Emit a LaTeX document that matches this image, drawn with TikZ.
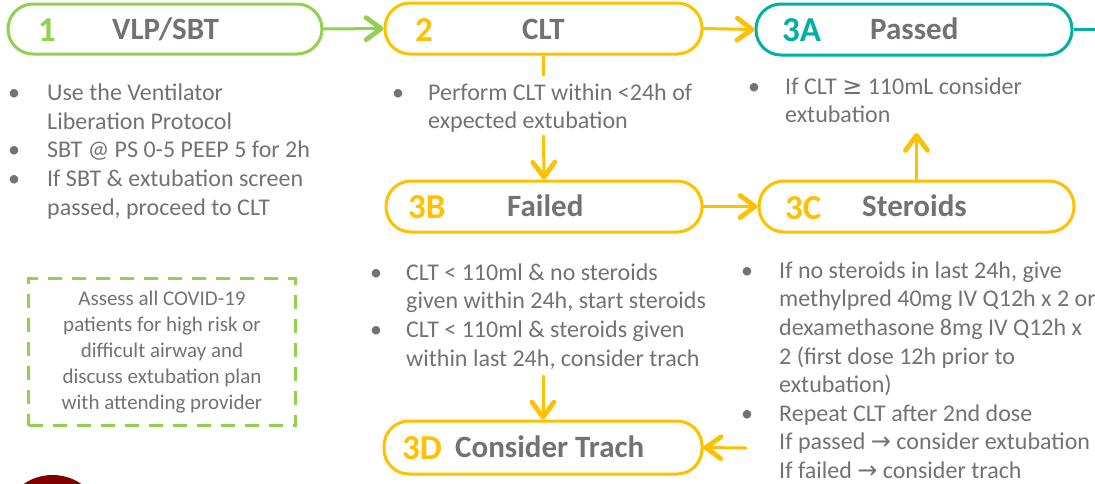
\documentclass[tikz,border=0pt]{standalone}
\usepackage{fontspec}
\setmainfont{Carlito}
\newfontfamily\symf{DejaVu Sans}
\usetikzlibrary{arrows.meta}
\definecolor{cgreen}{RGB}{146,208,80}
\definecolor{corange}{RGB}{255,192,0}
\definecolor{cteal}{RGB}{0,176,166}
\definecolor{cgray}{RGB}{118,113,113}
\definecolor{cmaroon}{RGB}{128,0,0}
\newcommand{\mylines}[1]{\begin{tabular}[t]{@{}l@{}}#1\end{tabular}}
\begin{document}
\begin{tikzpicture}[x=1pt,y=-1pt,
  stage/.style={draw, line width=3pt, rounded corners=25pt, inner sep=0pt, minimum height=51pt, minimum width=316pt},
  num/.style={font=\fontsize{35}{35}\selectfont\bfseries, anchor=base west, inner sep=0pt},
  lab/.style={font=\fontsize{31}{31}\selectfont\bfseries, text=cgray, anchor=base west, inner sep=0pt},
  body/.style={font=\fontsize{24}{28.7}\selectfont, text=cgray, anchor=base west, inner sep=0pt},
  bul/.style={font=\fontsize{24}{28.7}\selectfont, text=cgray, anchor=base west, inner sep=0pt},
  flow/.style={line width=3pt, line cap=round, -{Straight Barb[length=15pt,width=22pt,line width=0pt 1.6,line cap=round,line join=round]}},
  link/.style={line width=3pt},
  note/.style={draw=cgreen, line width=3pt, dash pattern=on 14pt off 10pt, minimum width=267pt, minimum height=147pt, inner sep=0pt, align=center, text=cgray, font=\fontsize{21}{26}\selectfont}
]
\useasboundingbox (0,0) rectangle (1095,483);
\begin{scope}
  \clip (0,0) rectangle (1095,483);
  \fill[cmaroon] (52.5,526) circle (51);
\end{scope}

% stages
\node[stage, draw=cgreen, minimum width=314pt, minimum height=50pt] (s1) at (165,29) {};
\node[num, text=cgreen] (n1) at (38,41.5) {1};
\node[lab] (l1) at (112,39) {VLP/SBT};

\node[stage, draw=corange, minimum width=317pt] (s2) at (543.5,28.5) {};
\node[num, text=corange] (n2) at (415,41) {2};
\node[lab] (l2) at (522,39) {CLT};

\node[stage, draw=cteal] (s3a) at (914,29.5) {};
\node[num, text=cteal] (n3a) at (782,41.7) {3A};
\node[lab] (l3a) at (870,39.5) {Passed};

\node[stage, draw=corange] (s3b) at (544,206.5) {};
\node[num, text=corange] (n3b) at (408,218.5) {3B};
\node[lab] (l3b) at (507,216.7) {Failed};

\node[stage, draw=corange, minimum width=315pt] (s3c) at (916.5,206.5) {};
\node[num, text=corange] (n3c) at (785,219) {3C};
\node[lab] (l3c) at (862,216.7) {Steroids};

\node[stage, draw=corange, minimum width=318pt, minimum height=53pt] (s3d) at (543,447.5) {};
\node[num, text=corange] (n3d) at (402,459.3) {3D};
\node[lab] (l3d) at (455,457.3) {Consider Trach};

% lists
\node[bul] (b1a) at (8,100.5) {•};
\node[body] (t1a) at (47,100.5) {\mylines{Use the Ventilator\\Liberation Protocol}};
\node[bul] (b1b) at (8,157.7) {•};
\node[body] (t1b) at (47,157.7) {SBT @ PS 0-5 PEEP 5 for 2h};
\node[bul] (b1c) at (8,186.4) {•};
\node[body] (t1c) at (47,186.4) {\mylines{If SBT \& extubation screen\\passed, proceed to CLT}};

\node[bul] (b2a) at (392,100) {•};
\node[body] (t2a) at (428,100) {\mylines{Perform CLT within <24h of\\expected extubation}};

\node[bul] (b3a) at (748,94) {•};
\node[body] (t3a) at (785,94) {\mylines{If CLT {\symf ≥} 110mL consider\\extubation}};

\node[bul] (b3b1) at (370,280) {•};
\node[body] (t3b1) at (406,280) {\mylines{CLT < 110ml \& no steroids\\given within 24h, start steroids}};
\node[bul] (b3b2) at (370,337.4) {•};
\node[body] (t3b2) at (406,337.4) {\mylines{CLT < 110ml \& steroids given\\within last 24h, consider trach}};

\node[bul] (b3c1) at (741,278) {•};
\node[body] (t3c1) at (779,278) {\mylines{If no steroids in last 24h, give\\methylpred 40mg IV Q12h x 2 or\\dexamethasone 8mg IV Q12h x\\2 (first dose 12h prior to\\extubation)}};
\node[bul] (b3c2) at (741,421) {•};
\node[body] (t3c2) at (779,421) {\mylines{Repeat CLT after 2nd dose\\If passed {\symf →} consider extubation\\If failed {\symf →} consider trach}};

% note
\node[note] (nt) at (162,352) {Assess all COVID-19\\patients for high risk or\\difficult airway and\\discuss extubation plan\\with attending provider};

% connectors
\coordinate (c2s) at (543.5,76);
\coordinate (c2b) at (543.5,136);
\coordinate (c3c) at (916.5,133);
\coordinate (c3d) at (543,376);
\coordinate (c3e) at (746,448);
\coordinate (cout) at (1100,29.5);

\draw[flow, draw=cgreen] (s1.east) -- (s2.west);
\draw[flow, draw=corange] (s2.east) -- (s3a.west);
\draw[link, draw=cteal] (s3a.east) -- (cout);
\draw[link, draw=corange] (s2.south) -- (c2s);
\draw[flow, draw=corange] (c2b) -- (s3b.north);
\draw[flow, draw=corange] (s3b.east) -- (s3c.west);
\draw[flow, draw=corange] (s3c.north) -- (c3c);
\draw[flow, draw=corange] (c3d) -- (s3d.north);
\draw[flow, draw=corange] (c3e) -- (s3d.east);
\end{tikzpicture}
\end{document}
